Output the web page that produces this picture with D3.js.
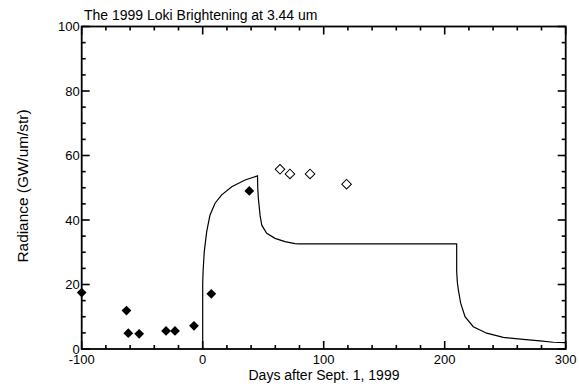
<!DOCTYPE html>
<html><head><meta charset="utf-8">
<script src="https://cdn.jsdelivr.net/npm/d3@7"></script>
<style>body{margin:0;background:#fff}svg{display:block}text{font-family:"Liberation Sans",Arial,sans-serif;fill:#000}</style>
</head><body>
<script>
const title = "The 1999 Loki Brightening at 3.44 um";
const xLabel = "Days after Sept. 1, 1999";
const yLabel = "Radiance (GW/um/str)";
const xTicks = [-100, 0, 100, 200, 300];
const yTicks = [0, 20, 40, 60, 80, 100];
const xMinorTicks = [-80, -60, -40, -20, 20, 40, 60, 80, 120, 140, 160, 180, 220, 240, 260, 280];
const yMinorTicks = [5, 10, 15, 25, 30, 35, 45, 50, 55, 65, 70, 75, 85, 90, 95];
// filled diamonds
const filledX = [-100, -63, -61.5, -52.5, -30.3, -22.9, -7.2, 7.1, 38.5];
const filledY = [17.5, 11.9, 4.9, 4.7, 5.6, 5.6, 7.2, 17.1, 49.0];
// open diamonds
const openX = [63.9, 72.1, 88.7, 118.9];
const openY = [55.7, 54.3, 54.3, 51.1];
// model curve
const curveX = [0, 0, 0.3, 1.3, 3.3, 6, 10.2, 15.7, 24, 35, 44.6, 45.3, 45.5, 46, 47.4, 48.8, 52.9, 59.8, 68, 76.3, 80, 209.9, 209.9, 210.5, 211.3, 213.2, 216.8, 223.6, 234.7, 248.4, 264.9, 278.8, 289.8, 299.5, 300];
const curveY = [0, 20, 24, 30.2, 36.4, 41.5, 45.2, 47.8, 50.3, 52.4, 53.6, 53.7, 50, 46.7, 41.5, 38.4, 35.9, 34.3, 33.3, 32.7, 32.6, 32.6, 24, 20.5, 18.3, 14.2, 10.0, 6.9, 4.9, 3.6, 3.0, 2.5, 2.1, 2.0, 2.0];

const W = 579, H = 386;
const mg = {l: 81.7, r: 579 - 565.7, t: 26.5, b: 386 - 349};
const svg = d3.select("body").append("svg").attr("width", W).attr("height", H);
const x = d3.scaleLinear().domain([-100, 300]).range([mg.l, W - mg.r]);
const y = d3.scaleLinear().domain([0, 100]).range([H - mg.b, mg.t]);

svg.append("rect").attr("x", x(-100)).attr("y", y(100)).attr("width", x(300) - x(-100)).attr("height", y(0) - y(100))
  .attr("fill", "none").attr("stroke", "#000").attr("stroke-width", 1.8);

// inward ticks on all four sides, positioned by the scales
const MAJ = 8, MIN = 4, TW = 1.6;
const tickG = svg.append("g").attr("fill", "#000");
function xTick(v, len) {
  tickG.append("rect").attr("x", x(v) - TW / 2).attr("y", y(0) - len).attr("width", TW).attr("height", len);
  tickG.append("rect").attr("x", x(v) - TW / 2).attr("y", y(100)).attr("width", TW).attr("height", len);
}
function yTick(v, len) {
  tickG.append("rect").attr("x", x(-100)).attr("y", y(v) - TW / 2).attr("width", len).attr("height", TW);
  tickG.append("rect").attr("x", x(300) - len).attr("y", y(v) - TW / 2).attr("width", len).attr("height", TW);
}
xTicks.forEach(v => xTick(v, MAJ));
xMinorTicks.forEach(v => xTick(v, MIN));
yTicks.forEach(v => yTick(v, MAJ));
yMinorTicks.forEach(v => yTick(v, MIN));

// tick labels
svg.append("g").selectAll("text").data(xTicks).join("text").attr("x", v => x(v)).attr("y", y(0) + 15)
  .attr("text-anchor", "middle").attr("font-size", 13).text(v => v);
svg.append("g").selectAll("text").data(yTicks).join("text").attr("x", x(-100) - 2).attr("y", v => y(v) + 4.5)
  .attr("text-anchor", "end").attr("font-size", 13).text(v => v);

// curve
const pts = curveX.map((v, i) => [v, curveY[i]]);
svg.append("path").attr("d", d3.line().x(p => x(p[0])).y(p => y(p[1]))(pts))
  .attr("fill", "none").attr("stroke", "#000").attr("stroke-width", 1.2);

// diamonds
filledX.forEach((v, i) => {
  svg.append("path").attr("d", d3.symbol().type(d3.symbolSquare).size(48)())
    .attr("transform", `translate(${x(v)},${y(filledY[i])}) rotate(45)`).attr("fill", "#000");
});
openX.forEach((v, i) => {
  svg.append("path").attr("d", d3.symbol().type(d3.symbolSquare).size(46)())
    .attr("transform", `translate(${x(v)},${y(openY[i])}) rotate(45)`)
    .attr("fill", "#fff").attr("stroke", "#000").attr("stroke-width", 1);
});

// titles
svg.append("text").attr("x", 84).attr("y", 20).attr("font-size", 14).text(title);
svg.append("text").attr("x", 324).attr("y", 380).attr("text-anchor", "middle").attr("font-size", 14).text(xLabel);
svg.append("text").attr("transform", `translate(28,186) rotate(-90) scale(1.1,1)`).attr("text-anchor", "middle").attr("font-size", 14).text(yLabel);
</script>
</body></html>
